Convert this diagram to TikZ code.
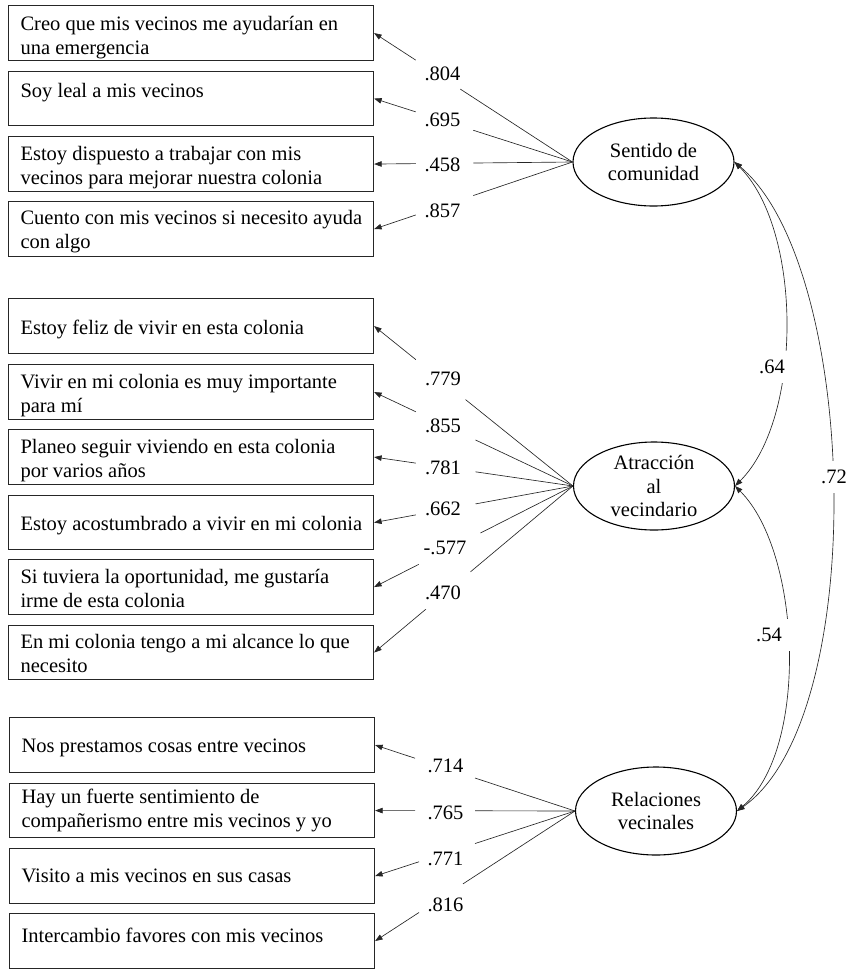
\documentclass[tikz,border=0pt]{standalone}
\usepackage{fontspec}
\setmainfont{Liberation Serif}
\usetikzlibrary{shapes.geometric,arrows.meta,calc}
\begin{document}
\begin{tikzpicture}[x=1pt,y=-1pt,
  txt/.style={font=\fontsize{20.5}{24}\selectfont},
  box/.style={txt, draw=black!85, line width=1.1pt, anchor=north west,
    text width=353pt, inner xsep=6pt, inner ysep=0pt, minimum height=0pt,
    align=flush left, execute at begin node={\leftskip=6pt}},
  ell/.style={ellipse, draw=black, line width=1.1pt, minimum width=161pt,
    minimum height=88pt, inner sep=0pt, align=center,
    font=\fontsize{20.5}{23.5}\selectfont},
  ln/.style={draw=black!85, line width=0.65pt},
  tip/.style={-{Triangle[length=7.5pt,width=5.5pt]}},
  cov/.style={ln, {Triangle[length=7.5pt,width=5.5pt]}-{Triangle[length=7.5pt,width=5.5pt]}},
  lab/.style={txt, inner sep=0pt},
  clab/.style={txt, fill=white, inner xsep=8pt, inner ysep=9pt}
]
\useasboundingbox (0,0) rectangle (847,972);

% boxes: group 1
\node[box, text height=24.5pt, text depth=30.5pt] (B1) at (8,5) {Creo que mis vecinos me ayudarían en\\una emergencia};
\node[box, text height=25.5pt, text depth=28.5pt] (B2) at (8,71) {Soy leal a mis vecinos};
\node[box, text height=24pt, text depth=31pt] (B3) at (8,136) {Estoy dispuesto a trabajar con mis\\vecinos para mejorar nuestra colonia};
\node[box, text height=23pt, text depth=32pt] (B4) at (8,201) {Cuento con mis vecinos si necesito ayuda\\con algo};
% group 2
\node[box, text height=36pt, text depth=19pt] (B5) at (8,298) {Estoy feliz de vivir en esta colonia};
\node[box, text height=23.5pt, text depth=31.5pt] (B6) at (8,364) {Vivir en mi colonia es muy importante\\para mí};
\node[box, text height=24pt, text depth=31pt] (B7) at (8,429) {Planeo seguir viviendo en esta colonia\\por varios años};
\node[box, text height=35pt, text depth=19pt] (B8) at (8,495) {Estoy acostumbrado a vivir en mi colonia};
\node[box, text height=24pt, text depth=31pt] (B9) at (8,559) {Si tuviera la oportunidad, me gustaría\\irme de esta colonia};
\node[box, text height=22.5pt, text depth=31.5pt] (B10) at (8,625) {En mi colonia tengo a mi alcance lo que\\necesito};
% group 3
\node[box, text height=34.5pt, text depth=20.5pt] (B11) at (9,717) {Nos prestamos cosas entre vecinos};
\node[box, text height=20pt, text depth=34pt] (B12) at (9,783) {Hay un fuerte sentimiento de\\compañerismo entre mis vecinos y yo};
\node[box, text height=33.5pt, text depth=21.5pt] (B13) at (9,848) {Visito a mis vecinos en sus casas};
\node[box, text height=28.5pt, text depth=26.5pt] (B14) at (9,913) {Intercambio favores con mis vecinos};

% latent variables
\node[ell] (SC) at (653.5,162) {Sentido de\\comunidad};
\node[ell] (AV) at (654,486) {Atracción\\al\\vecindario};
\node[ell] (RV) at (656,811) {Relaciones\\vecinales};

% loadings with gaps
\foreach \f/\b/\s/\e in {SC/B1/0.565/0.79, SC/B2/0.50/0.79, SC/B3/0.50/0.79, SC/B4/0.50/0.79,
  AV/B5/0.54/0.79, AV/B6/0.49/0.79, AV/B7/0.49/0.79, AV/B8/0.49/0.79, AV/B9/0.465/0.775, AV/B10/0.515/0.74,
  RV/B11/0.50/0.80, RV/B12/0.50/0.80, RV/B13/0.50/0.78, RV/B14/0.56/0.78}{
  \draw[ln] (\f.west) -- ($(\f.west)!\s!(\b.east)$);
  \draw[ln,tip] ($(\f.west)!\e!(\b.east)$) -- (\b.east);
}

% loading labels
\node[lab] (l1) at (442.5,73.5) {.804};
\node[lab] (l2) at (442.5,120) {.695};
\node[lab] (l3) at (442.5,165) {.458};
\node[lab] (l4) at (442.5,210.5) {.857};
\node[lab] (l5) at (443,379) {.779};
\node[lab] (l6) at (443,426) {.855};
\node[lab] (l7) at (443,467.5) {.781};
\node[lab] (l8) at (443,509) {.662};
\node[lab] (l9) at (445,547.5) {-.577};
\node[lab] (l10) at (443,592.5) {.470};
\node[lab] (l11) at (445.5,765.5) {.714};
\node[lab] (l12) at (445.5,812.5) {.765};
\node[lab] (l13) at (445.5,858.5) {.771};
\node[lab] (l14) at (445.5,904.5) {.816};

% covariances
\draw[cov] (SC.east) to[out=-45,in=45,looseness=0.76] (AV.east);
\draw[cov] (SC.east) to[out=-40,in=35,looseness=0.64] (RV.east);
\draw[cov] (AV.east) to[out=-45,in=40,looseness=0.74] (RV.east);
\node[clab] (c1) at (772,367) {.64};
\node[clab] (c2) at (834,477) {.72};
\node[clab] (c3) at (769,635) {.54};
\end{tikzpicture}
\end{document}
